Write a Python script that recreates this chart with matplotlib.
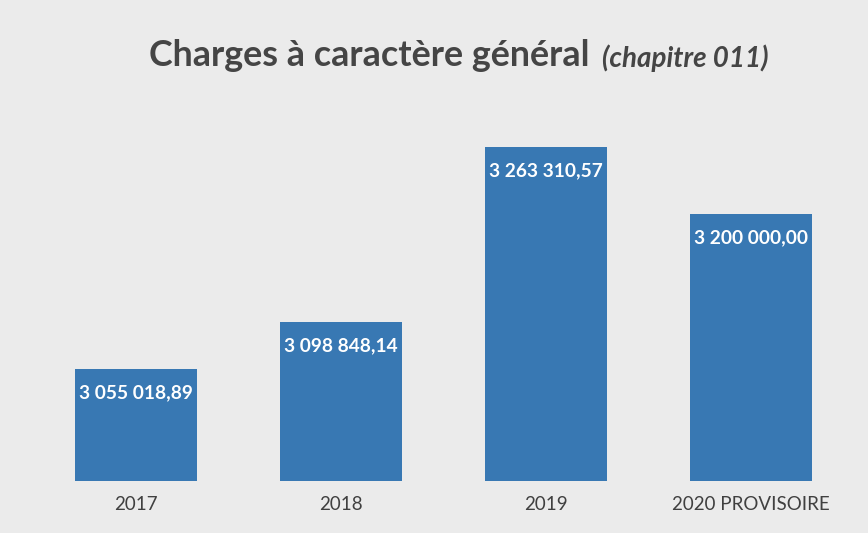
import matplotlib
matplotlib.use("Agg")
import matplotlib.pyplot as plt

categories = ["2017", "2018", "2019", "2020 PROVISOIRE"]
values = [3055018.89, 3098848.14, 3263310.57, 3200000.00]
labels = ["3 055 018,89", "3 098 848,14", "3 263 310,57", "3 200 000,00"]

plt.rcParams['font.family'] = ['Lato', 'DejaVu Sans']

fig = plt.figure(figsize=(8.68, 5.33), dpi=100)
fig.patch.set_facecolor('#ebebeb')
ax = fig.add_axes([0.0386, 0.0976, 0.9447, 0.700])
ax.set_facecolor('#ebebeb')

x = list(range(len(categories)))
ax.bar(x, values, width=0.595, color='#3878b3', zorder=2)
ax.set_xlim(-0.5, 3.5)
ax.set_ylim(2950000, 3300000)
for xi, v, lab in zip(x, values, labels):
    ax.annotate(lab, (xi, v), xytext=(0, -17), textcoords='offset points',
                ha='center', va='center', color='white', fontsize=13.8,
                fontweight='bold')

ax.set_xticks(x)
ax.set_xticklabels(categories, fontsize=13.5, color='#404040')
ax.tick_params(axis='x', length=0, pad=11)
ax.set_yticks([])
for s in ax.spines.values():
    s.set_visible(False)

fig.text(0.172, 0.895, "Charges à caractère général", fontsize=25.8, fontweight='bold',
         color='#454545', ha='left', va='center')
fig.text(0.6935, 0.891, "(chapitre 011)", fontsize=20, fontweight='bold', style='italic',
         color='#454545', ha='left', va='center')

fig.savefig("out.png", dpi=100, facecolor=fig.get_facecolor())
